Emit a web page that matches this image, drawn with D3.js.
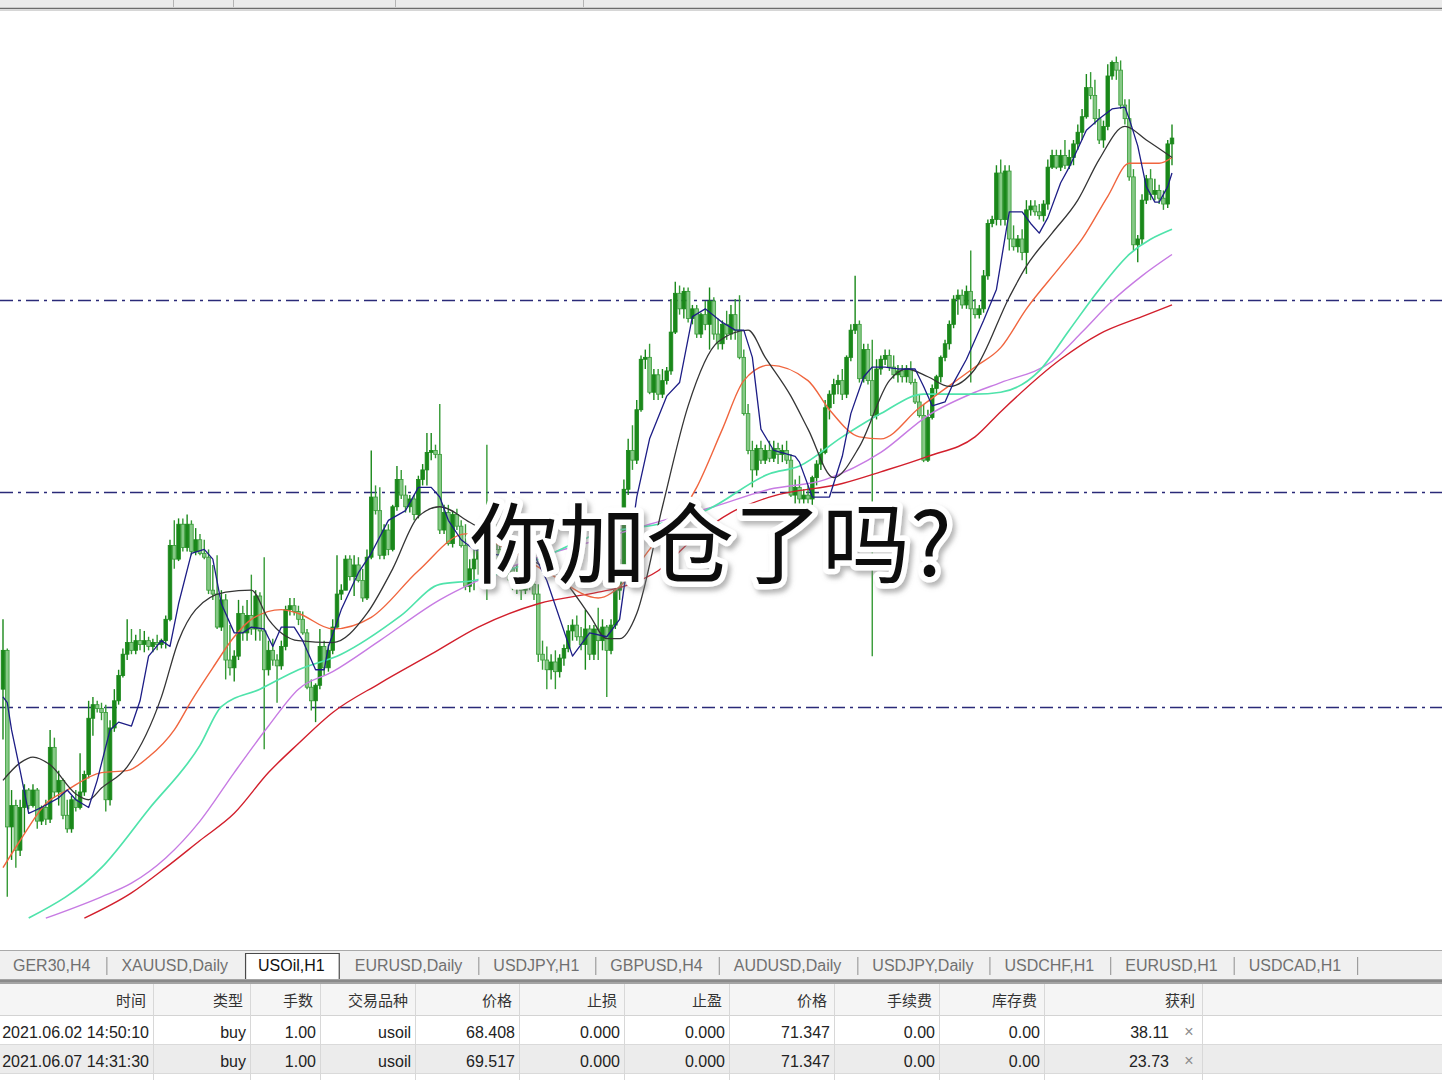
<!DOCTYPE html>
<html>
<head>
<meta charset="utf-8">
<script src="https://cdn.jsdelivr.net/npm/d3@7"></script>
<style>
  html, body { margin: 0; padding: 0; background: #fff; overflow: hidden; }
  svg { display: block; }
</style>
</head>
<body>
<svg id="chart"></svg>
<script>
// USOil H1 candles: [open, high, low, close]
var ohlc = [
  [68.50,68.86,68.24,68.70],[68.70,68.71,67.43,67.79],[67.79,67.98,67.62,67.90],[67.90,67.93,67.58,67.67],[67.67,67.93,67.64,67.89],[67.89,68.01,67.76,67.98],
  [67.98,67.99,67.88,67.90],[67.90,68.01,67.89,67.98],[67.98,67.99,67.78,67.82],[67.82,67.90,67.80,67.89],[67.89,67.93,67.80,67.83],[67.83,68.29,67.81,68.20],
  [68.20,68.25,67.94,67.97],[67.97,68.08,67.90,68.03],[68.03,68.04,67.83,67.85],[67.85,67.93,67.76,67.78],[67.78,67.95,67.76,67.93],[67.93,67.98,67.87,67.89],
  [67.89,68.17,67.88,67.97],[67.97,68.08,67.95,68.06],[68.06,68.44,68.04,68.35],[68.35,68.46,68.26,68.42],[68.42,68.44,68.38,68.40],[68.40,68.43,68.34,68.38],
  [68.38,68.42,67.87,67.93],[67.93,68.34,67.90,68.30],[68.30,68.50,68.28,68.44],[68.44,68.60,68.42,68.57],[68.57,68.71,68.56,68.68],[68.68,68.86,68.65,68.74],
  [68.74,68.81,68.68,68.70],[68.70,68.78,68.68,68.75],[68.75,68.81,68.70,68.73],[68.73,68.80,68.69,68.75],[68.75,68.77,68.70,68.72],[68.72,68.76,68.69,68.74],
  [68.74,68.78,68.70,68.73],[68.73,68.76,68.71,68.75],[68.75,68.88,68.71,68.86],[68.86,69.27,68.85,69.24],[69.24,69.37,69.12,69.17],[69.17,69.38,69.16,69.35],
  [69.35,69.38,69.21,69.23],[69.23,69.40,69.21,69.35],[69.35,69.37,69.19,69.21],[69.21,69.33,69.19,69.27],[69.27,69.30,69.19,69.20],[69.20,69.27,69.17,69.18],
  [69.18,69.22,68.99,69.01],[69.01,69.14,68.96,68.99],[68.99,69.19,68.81,68.82],[68.82,69.01,68.80,68.96],[68.96,68.99,68.55,68.65],[68.65,68.83,68.57,68.61],
  [68.61,68.70,68.54,68.67],[68.67,68.96,68.65,68.89],[68.89,68.93,68.75,68.79],[68.79,68.96,68.75,68.88],[68.88,69.09,68.78,68.81],[68.81,69.01,68.75,68.98],
  [68.98,69.00,68.75,68.80],[68.80,69.18,68.19,68.60],[68.60,68.75,68.57,68.70],[68.70,68.76,68.62,68.65],[68.65,68.68,68.43,68.62],[68.62,68.75,68.60,68.72],
  [68.72,68.93,68.70,68.91],[68.91,68.97,68.88,68.93],[68.93,68.97,68.88,68.90],[68.90,68.93,68.83,68.86],[68.86,68.90,68.78,68.79],[68.79,68.81,68.50,68.51],
  [68.51,68.55,68.39,68.44],[68.44,68.53,68.33,68.52],[68.52,68.81,68.50,68.72],[68.72,68.75,68.57,68.61],[68.61,68.73,68.59,68.70],[68.70,68.86,68.68,68.82],
  [68.82,69.19,68.81,68.99],[68.99,69.04,68.96,69.01],[69.01,69.19,69.01,69.17],[69.17,69.19,69.06,69.08],[69.08,69.19,68.98,69.14],[69.14,69.18,69.05,69.06],
  [69.06,69.12,68.95,68.97],[68.97,69.22,68.96,69.18],[69.18,69.73,69.17,69.49],[69.49,69.55,69.40,69.42],[69.42,69.54,69.17,69.19],[69.19,69.35,69.17,69.32],
  [69.32,69.35,69.19,69.22],[69.22,69.45,69.21,69.44],[69.44,69.65,69.42,69.58],[69.58,69.63,69.48,69.50],[69.50,69.55,69.41,69.44],[69.44,69.50,69.41,69.48],
  [69.48,69.50,69.37,69.40],[69.40,69.60,69.38,69.58],[69.58,69.66,69.55,69.63],[69.63,69.82,69.55,69.72],[69.72,69.82,69.68,69.73],[69.73,69.76,69.69,69.71],
  [69.71,69.97,69.30,69.32],[69.32,69.45,69.30,69.41],[69.41,69.45,69.24,69.25],[69.25,69.42,69.23,69.40],[69.40,69.43,69.32,69.34],[69.34,69.37,69.23,69.24],
  [69.24,69.35,69.01,69.03],[69.03,69.17,69.00,69.12],[69.12,69.24,69.01,69.17],[69.17,69.27,69.09,69.24],[69.24,69.37,69.17,69.32],[69.32,69.76,68.96,69.17],
  [69.17,69.32,69.09,69.27],[69.27,69.35,69.17,69.22],[69.22,69.30,69.12,69.14],[69.14,69.24,69.09,69.19],[69.19,69.27,69.06,69.12],[69.12,69.19,69.01,69.04],
  [69.04,69.14,68.99,69.09],[69.09,69.17,68.96,69.01],[69.01,69.12,68.99,69.06],[69.06,69.17,69.01,69.04],[69.04,69.09,68.96,68.99],[68.99,69.04,68.64,68.68],
  [68.68,68.75,68.60,68.65],[68.65,68.72,68.50,68.60],[68.60,68.68,68.55,68.64],[68.64,68.70,68.50,68.59],[68.59,68.68,68.56,68.66],[68.66,68.73,68.62,68.71],
  [68.71,68.83,68.69,68.80],[68.80,68.86,68.75,68.83],[68.83,68.88,68.75,68.77],[68.77,68.82,68.70,68.73],[68.73,68.91,68.60,68.81],[68.81,68.83,68.65,68.68],
  [68.68,68.83,68.65,68.81],[68.81,68.92,68.65,68.75],[68.75,68.86,68.70,68.82],[68.82,68.83,68.46,68.70],[68.70,68.86,68.68,68.83],[68.83,69.04,68.81,69.01],
  [69.01,69.17,68.96,69.13],[69.13,69.58,69.12,69.53],[69.53,69.79,69.50,69.73],[69.73,69.86,69.63,69.68],[69.68,69.99,69.66,69.94],[69.94,70.22,69.93,70.20],
  [70.20,70.25,70.15,70.21],[70.21,70.28,70.02,70.03],[70.03,70.15,69.99,70.12],[70.12,70.15,69.99,70.02],[70.02,70.15,70.00,70.09],[70.09,70.16,70.07,70.14],
  [70.14,70.51,70.12,70.34],[70.34,70.60,70.33,70.54],[70.54,70.58,70.43,70.46],[70.46,70.57,70.41,70.55],[70.55,70.57,70.39,70.41],[70.41,70.48,70.38,70.46],
  [70.46,70.48,70.31,70.33],[70.33,70.44,70.31,70.43],[70.43,70.50,70.35,70.38],[70.38,70.57,70.25,70.50],[70.50,70.52,70.30,70.33],[70.33,70.41,70.25,70.28],
  [70.28,70.40,70.25,70.38],[70.38,70.45,70.30,70.33],[70.33,70.48,70.30,70.43],[70.43,70.51,70.30,70.35],[70.35,70.53,70.20,70.21],[70.21,70.25,69.91,69.92],
  [69.92,69.97,69.71,69.73],[69.73,69.78,69.54,69.63],[69.63,69.76,69.60,69.74],[69.74,69.78,69.66,69.68],[69.68,69.76,69.66,69.73],[69.73,69.78,69.67,69.69],
  [69.69,69.78,69.67,69.74],[69.74,69.77,69.66,69.71],[69.71,69.76,69.67,69.73],[69.73,69.78,69.66,69.68],[69.68,69.71,69.49,69.50],[69.50,69.58,69.32,69.54],
  [69.54,69.60,69.32,69.48],[69.48,69.53,69.45,69.50],[69.50,69.55,69.42,69.48],[69.48,69.60,69.45,69.59],[69.59,69.68,69.55,69.66],[69.66,69.74,69.63,69.72],
  [69.72,69.99,69.71,69.95],[69.95,70.04,69.89,70.02],[70.02,70.10,69.97,70.07],[70.07,70.12,70.02,70.09],[70.09,70.15,69.99,70.02],[70.02,70.22,70.00,70.21],
  [70.21,70.38,70.19,70.35],[70.35,70.63,70.33,70.38],[70.38,70.40,70.08,70.10],[70.10,70.28,70.08,70.25],[70.25,70.28,70.07,70.09],[70.09,70.30,68.67,69.91],
  [69.91,70.20,69.89,70.15],[70.15,70.22,70.12,70.20],[70.20,70.25,70.17,70.22],[70.22,70.25,70.14,70.16],[70.16,70.22,70.10,70.12],[70.12,70.17,70.08,70.14],
  [70.14,70.17,70.08,70.11],[70.11,70.17,70.08,70.15],[70.15,70.19,70.07,70.08],[70.08,70.10,69.97,69.98],[69.98,70.02,69.90,69.91],[69.91,69.97,69.67,69.68],
  [69.68,69.94,69.67,69.90],[69.90,70.07,69.89,70.05],[70.05,70.12,70.02,70.11],[70.11,70.22,70.08,70.21],[70.21,70.30,70.19,70.28],[70.28,70.40,70.25,70.38],
  [70.38,70.53,70.36,70.51],[70.51,70.56,70.43,70.53],[70.53,70.56,70.46,70.48],[70.48,70.58,70.46,70.55],[70.55,70.76,70.08,70.46],[70.46,70.51,70.41,70.43],
  [70.43,70.48,70.41,70.46],[70.46,70.66,70.44,70.63],[70.63,70.92,70.61,70.90],[70.90,70.94,70.88,70.92],[70.92,71.20,70.89,71.16],[71.16,71.23,70.89,70.92],
  [70.92,71.20,70.89,71.17],[71.17,71.20,70.76,70.82],[70.82,70.89,70.76,70.78],[70.78,70.84,70.75,70.82],[70.82,70.87,70.71,70.75],[70.75,71.02,70.64,70.97],
  [70.97,71.02,70.94,70.99],[70.99,71.02,70.94,70.96],[70.96,71.00,70.92,70.94],[70.94,71.02,70.91,71.00],[71.00,71.23,70.97,71.19],[71.19,71.28,71.18,71.25],
  [71.25,71.28,71.18,71.19],[71.19,71.28,71.17,71.25],[71.25,71.33,71.18,71.20],[71.20,71.28,71.18,71.24],[71.24,71.33,71.20,71.31],[71.31,71.41,71.28,71.37],
  [71.37,71.49,71.33,71.45],[71.45,71.67,71.44,71.60],[71.60,71.68,71.54,71.56],[71.56,71.64,71.41,71.44],[71.44,71.49,71.31,71.33],[71.33,71.43,71.29,71.40],
  [71.40,71.72,71.38,71.66],[71.66,71.74,71.64,71.73],[71.73,71.76,71.64,71.69],[71.69,71.74,71.49,71.51],[71.51,71.54,71.41,71.44],[71.44,71.54,71.12,71.14],
  [71.14,71.18,70.76,70.79],[70.79,70.84,70.70,70.82],[70.82,71.05,70.79,71.02],[71.02,71.15,71.00,71.13],[71.13,71.18,71.02,71.05],[71.05,71.13,71.02,71.07],
  [71.07,71.10,71.00,71.03],[71.03,71.07,70.97,71.00],[71.00,71.33,70.98,71.31],[71.31,71.41,71.20,71.34]
];

// moving averages: [bar index, price]
var maNavy = [[0,68.46],[1,68.43],[2,68.29],[4,68.08],[6,67.86],[9,67.89],[13,67.94],[15,67.98],[17,67.93],[20,67.89],[22,68.03],[25,68.29],[27,68.33],[30,68.31],[32,68.44],[34,68.67],[37,68.75],[39,68.72],[41,68.94],[44,69.20],[47,69.22],[49,69.17],[51,68.94],[54,68.79],[56,68.79],[58,68.82],[61,68.81],[63,68.72],[65,68.82],[68,68.82],[70,68.75],[73,68.60],[75,68.60],[76,68.72],[79,68.91],[83,69.10],[86,69.20],[90,69.37],[94,69.42],[97,69.54],[100,69.54],[102,69.49],[104,69.37],[107,69.27],[110,69.22],[116,69.19],[123,69.24],[127,69.06],[133,68.67],[137,68.79],[141,68.77],[144,68.86],[148,69.49],[151,69.79],[155,70.01],[158,70.08],[161,70.42],[164,70.46],[168,70.39],[171,70.35],[173,70.35],[175,70.21],[177,69.84],[180,69.73],[185,69.70],[186,69.67],[189,69.49],[193,69.49],[196,69.70],[198,69.92],[201,70.11],[203,70.16],[206,70.16],[209,70.15],[213,70.15],[215,70.06],[217,69.96],[220,69.98],[222,70.08],[225,70.20],[229,70.40],[232,70.56],[235,70.96],[238,70.96],[240,70.90],[242,70.85],[244,70.93],[247,71.11],[249,71.19],[253,71.38],[256,71.44],[259,71.49],[262,71.50],[263,71.44],[265,71.30],[267,71.09],[269,71.01],[270,71.01],[272,71.09],[273,71.16]];
var maBlack = [[0,68.03],[4,68.12],[7,68.15],[11,68.11],[17,67.96],[20,67.93],[23,67.99],[29,68.10],[37,68.46],[41,68.75],[45,68.91],[52,69.00],[58,69.01],[62,68.86],[69,68.75],[77,68.74],[85,68.89],[91,69.12],[97,69.39],[102,69.44],[109,69.36],[121,69.19],[131,69.06],[137,68.88],[141,68.76],[144,68.76],[148,68.89],[154,69.44],[160,69.96],[167,70.29],[174,70.35],[178,70.21],[184,70.01],[188,69.84],[194,69.59],[200,69.75],[207,70.09],[211,70.15],[216,70.11],[221,70.06],[227,70.15],[235,70.52],[239,70.68],[245,70.85],[251,71.02],[256,71.23],[262,71.40],[267,71.33],[273,71.24]];
var maOrange = [[0,67.58],[4,67.72],[10,67.91],[15,67.98],[23,68.07],[29,68.08],[34,68.15],[40,68.29],[44,68.44],[49,68.61],[54,68.77],[58,68.86],[65,68.91],[69,68.89],[77,68.81],[86,68.87],[97,69.11],[108,69.30],[118,69.22],[128,69.09],[139,68.97],[145,69.05],[151,69.22],[162,69.54],[168,69.84],[173,70.09],[179,70.17],[188,70.09],[193,69.94],[200,69.80],[205,69.79],[214,69.95],[227,70.16],[233,70.26],[239,70.46],[247,70.68],[252,70.82],[258,71.04],[263,71.21],[270,71.21],[273,71.24]];
var maAqua = [[6,67.32],[23,67.58],[34,67.88],[46,68.21],[51,68.41],[60,68.50],[69,68.60],[79,68.68],[93,68.88],[102,69.04],[110,69.06],[125,69.17],[139,69.30],[153,69.35],[164,69.42],[179,69.61],[186,69.65],[196,69.80],[205,69.92],[215,70.02],[227,70.02],[233,70.03],[242,70.14],[249,70.35],[256,70.56],[263,70.74],[273,70.87]];
var maViolet = [[10,67.32],[23,67.43],[30,67.50],[38,67.63],[46,67.82],[54,68.07],[62,68.31],[69,68.50],[77,68.59],[88,68.75],[102,68.96],[110,69.05],[125,69.18],[139,69.27],[151,69.35],[166,69.44],[179,69.53],[192,69.58],[205,69.72],[216,69.91],[227,70.03],[233,70.08],[245,70.19],[252,70.34],[259,70.50],[266,70.63],[273,70.74]];
var maRed = [[19,67.32],[30,67.45],[38,67.58],[46,67.72],[54,67.86],[62,68.07],[69,68.22],[77,68.38],[88,68.53],[100,68.68],[111,68.82],[125,68.94],[139,69.00],[145,69.03],[153,69.11],[161,69.27],[170,69.41],[179,69.49],[196,69.56],[205,69.62],[216,69.70],[227,69.80],[233,69.93],[247,70.20],[256,70.33],[266,70.42],[273,70.48]];

// open order levels
var orderLevels = [68.408, 69.517, 70.507];

var tabs = ["GER30,H4", "XAUUSD,Daily", "USOil,H1", "EURUSD,Daily", "USDJPY,H1", "GBPUSD,H4",
            "AUDUSD,Daily", "USDJPY,Daily", "USDCHF,H1", "EURUSD,H1", "USDCAD,H1"];
var activeTab = "USOil,H1";

var headers = ["时间", "类型", "手数", "交易品种", "价格", "止损", "止盈", "价格", "手续费", "库存费", "获利"];
var trades = [
  ["2021.06.02 14:50:10", "buy", "1.00", "usoil", "68.408", "0.000", "0.000", "71.347", "0.00", "0.00", "38.11"],
  ["2021.06.07 14:31:30", "buy", "1.00", "usoil", "69.517", "0.000", "0.000", "71.347", "0.00", "0.00", "23.73"]
];

var overlayText = "你加仓了吗?";

// ---- layout
var width = 1442, height = 1080;
var plot = { top: 10, bottom: 922, left: 3, right: 1172 };
var colEdges = [153, 250, 320, 415, 519, 624, 729, 834, 939, 1044, 1202];
var toolbarDividers = [173, 233, 395, 583];
var latin = "'Liberation Sans', Arial, 'Noto Sans CJK SC', sans-serif";
var cjk = "'Noto Sans CJK SC', 'Liberation Sans', sans-serif";

var svg = d3.select("#chart").attr("width", width).attr("height", height);

var defs = svg.append("defs");
defs.append("clipPath").attr("id", "plotClip")
  .append("rect").attr("x", 0).attr("y", plot.top).attr("width", width).attr("height", plot.bottom - plot.top);
var shadow = defs.append("filter").attr("id", "shadow")
  .attr("x", "-10%").attr("y", "-20%").attr("width", "130%").attr("height", "150%");
shadow.append("feDropShadow").attr("dx", 3).attr("dy", 4).attr("stdDeviation", 2.5)
  .attr("flood-color", "#7a7a7a").attr("flood-opacity", 0.55);

svg.append("rect").attr("width", width).attr("height", height).attr("fill", "#fff");

// toolbar remnant at top
svg.append("rect").attr("x", 0).attr("y", 0).attr("width", width).attr("height", 8).attr("fill", "#ebebeb");
svg.selectAll(".tbdiv").data(toolbarDividers).enter().append("line")
  .attr("x1", function(d) { return d + 0.5; }).attr("x2", function(d) { return d + 0.5; })
  .attr("y1", 0).attr("y2", 7).attr("stroke", "#b4b4b4");
svg.append("line").attr("x1", 0).attr("x2", width).attr("y1", 8.5).attr("y2", 8.5)
  .attr("stroke", "#6c6c6c").attr("stroke-width", 1.6);
svg.append("line").attr("x1", 0).attr("x2", width).attr("y1", 10.5).attr("y2", 10.5)
  .attr("stroke", "#d6d6d6");

// scales
var x = d3.scaleLinear().domain([0, ohlc.length - 1]).range([plot.left, plot.right]);
var y = d3.scaleLinear().domain([67.30, 72.00]).range([plot.bottom, plot.top]);

var g = svg.append("g").attr("clip-path", "url(#plotClip)");

// order lines (dash-dot)
g.selectAll(".order").data(orderLevels).enter().append("line")
  .attr("class", "order")
  .attr("x1", 0).attr("x2", width)
  .attr("y1", function(d) { return Math.round(y(d)) + 0.5; })
  .attr("y2", function(d) { return Math.round(y(d)) + 0.5; })
  .attr("stroke", "#2a2a78").attr("stroke-width", 1.4)
  .attr("stroke-dasharray", "13,5,3,5");

// candles
var bull = "#1a881a", bearFill = "#86c986", bearStroke = "#359a35";
var candles = g.append("g").selectAll("g").data(ohlc).enter().append("g");

candles.append("line")
  .attr("x1", function(d, i) { return x(i); })
  .attr("x2", function(d, i) { return x(i); })
  .attr("y1", function(d) { return y(d[1]); })
  .attr("y2", function(d) { return y(d[2]); })
  .attr("stroke", function(d) { return d[3] >= d[0] ? bull : bearStroke; })
  .attr("stroke-width", 1.4);

candles.append("rect")
  .attr("x", function(d, i) { return x(i) - 1.8; })
  .attr("width", 3.6)
  .attr("y", function(d) { return y(Math.max(d[0], d[3])); })
  .attr("height", function(d) { return Math.max(1, Math.abs(y(d[0]) - y(d[3]))); })
  .attr("fill", function(d) { return d[3] >= d[0] ? bull : bearFill; })
  .attr("stroke", function(d) { return d[3] >= d[0] ? bull : bearStroke; })
  .attr("stroke-width", 0.8);

// moving averages
var smooth = d3.line()
  .x(function(d) { return x(d[0]); })
  .y(function(d) { return y(d[1]); })
  .curve(d3.curveMonotoneX);
var straight = d3.line()
  .x(function(d) { return x(d[0]); })
  .y(function(d) { return y(d[1]); });

var maLines = [
  { data: maRed, color: "#d21f2c", w: 1.4, gen: smooth },
  { data: maViolet, color: "#c77be3", w: 1.4, gen: smooth },
  { data: maAqua, color: "#4fe3ab", w: 1.7, gen: smooth },
  { data: maOrange, color: "#f0653e", w: 1.4, gen: smooth },
  { data: maBlack, color: "#353535", w: 1.3, gen: smooth },
  { data: maNavy, color: "#1d1d86", w: 1.3, gen: straight }
];
g.selectAll(".ma").data(maLines).enter().append("path")
  .attr("class", "ma")
  .attr("d", function(d) { return d.gen(d.data); })
  .attr("fill", "none")
  .attr("stroke", function(d) { return d.color; })
  .attr("stroke-width", function(d) { return d.w; })
  .attr("stroke-linejoin", "round");

// big caption over the chart
svg.append("text")
  .attr("x", 470).attr("y", 576)
  .attr("font-family", cjk).attr("font-size", 88).attr("font-weight", 400)
  .attr("fill", "#111").attr("stroke", "#fff").attr("stroke-width", 11)
  .attr("stroke-linejoin", "round").attr("paint-order", "stroke")
  .attr("filter", "url(#shadow)")
  .text(overlayText);

// ---- tab bar
var tabTop = 950, tabBottom = 979;
svg.append("rect").attr("x", 0).attr("y", tabTop).attr("width", width).attr("height", tabBottom - tabTop).attr("fill", "#f0f0f0");
svg.append("line").attr("x1", 0).attr("x2", width).attr("y1", tabTop + 0.5).attr("y2", tabTop + 0.5).attr("stroke", "#a9a9a9");

var tabG = svg.append("g");
var tx = 13;
tabs.forEach(function(name, i) {
  var isActive = name === activeTab;
  var t = tabG.append("text")
    .attr("x", tx).attr("y", 971)
    .attr("font-family", latin).attr("font-size", 16)
    .attr("fill", isActive ? "#111" : "#707070")
    .text(name);
  var w = t.node().getComputedTextLength();
  if (isActive) {
    tabG.insert("path", "text")
      .attr("d", "M" + (tx - 12.5) + "," + tabBottom + "V953.5H" + (tx + w + 14.5) + "V" + tabBottom)
      .attr("fill", "#fff").attr("stroke", "#4a4a4a").attr("stroke-width", 1.2);
  }
  var next = tabs[i + 1];
  if (isActive || next === activeTab) {
    tx = tx + w + 30;
  } else {
    tabG.append("line")
      .attr("x1", tx + w + 16.5).attr("x2", tx + w + 16.5)
      .attr("y1", 957).attr("y2", 975)
      .attr("stroke", "#8e8e8e");
    tx = tx + w + 31;
  }
});

// ---- trade table
svg.append("rect").attr("x", 0).attr("y", tabBottom).attr("width", width).attr("height", 5).attr("fill", "#a4a4a4");
svg.append("rect").attr("x", 0).attr("y", 980).attr("width", width).attr("height", 2).attr("fill", "#8a8a8a");

var headTop = 984, headBottom = 1016, rowH = 29;
svg.append("rect").attr("x", 0).attr("y", headTop).attr("width", width).attr("height", headBottom - headTop).attr("fill", "#f5f5f5");
svg.append("line").attr("x1", 0).attr("x2", width).attr("y1", headBottom - 0.5).attr("y2", headBottom - 0.5).attr("stroke", "#d3d3d3");

var rowsG = svg.append("g");
trades.concat([null]).forEach(function(row, r) {
  var top = headBottom + r * rowH;
  rowsG.append("rect").attr("x", 0).attr("y", top).attr("width", width).attr("height", rowH)
    .attr("fill", r % 2 === 1 ? "#ececec" : "#fff");
  rowsG.append("line").attr("x1", 0).attr("x2", width)
    .attr("y1", top + rowH - 0.5).attr("y2", top + rowH - 0.5).attr("stroke", "#dadada");
});

svg.selectAll(".colsep").data(colEdges).enter().append("line")
  .attr("x1", function(d) { return d + 0.5; }).attr("x2", function(d) { return d + 0.5; })
  .attr("y1", headTop).attr("y2", height)
  .attr("stroke", "#d8d8d8");

svg.selectAll(".head").data(headers).enter().append("text")
  .attr("x", function(d, i) { return colEdges[i] - 7; })
  .attr("y", 1006)
  .attr("text-anchor", "end")
  .attr("font-family", cjk).attr("font-size", 15)
  .attr("fill", "#333")
  .text(function(d) { return d; });

trades.forEach(function(row, r) {
  var base = headBottom + r * rowH + 22;
  rowsG.selectAll(".cell" + r).data(row).enter().append("text")
    .attr("x", function(d, i) { return i === row.length - 1 ? colEdges[i] - 33 : colEdges[i] - 4; })
    .attr("y", base)
    .attr("text-anchor", "end")
    .attr("font-family", latin).attr("font-size", 16)
    .attr("fill", "#222")
    .text(function(d) { return d; });
  rowsG.append("text")
    .attr("x", colEdges[colEdges.length - 1] - 13).attr("y", base - 1)
    .attr("text-anchor", "middle")
    .attr("font-family", latin).attr("font-size", 16)
    .attr("fill", "#8c8c8c")
    .text("×");
});
</script>
</body>
</html>
